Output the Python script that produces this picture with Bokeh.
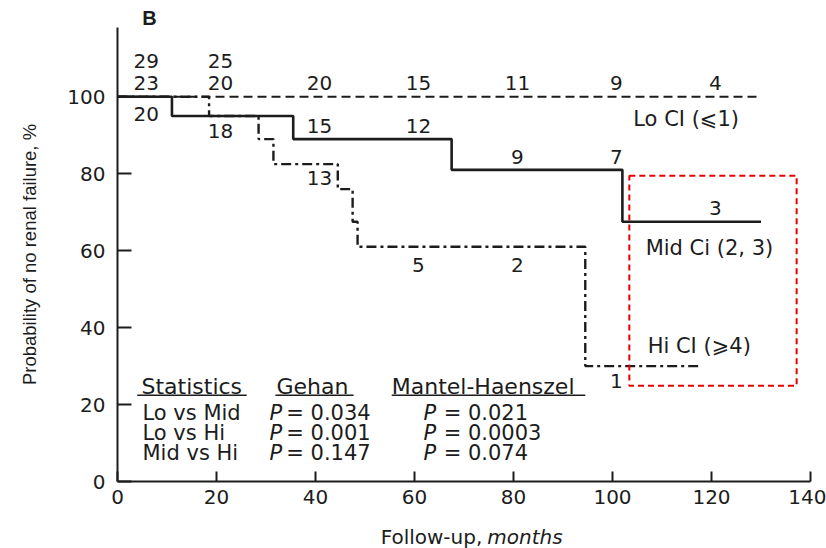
from bokeh.plotting import figure
from bokeh.layouts import column
from bokeh.models import Range1d, BoxAnnotation, FixedTicker
from bokeh.core.properties import value
from bokeh.embed import file_html
from bokeh.resources import INLINE

# ---------------- data ----------------
lo_months = [0, 130]
lo_surv = [100, 100]

mid_months = [0, 11, 35.5, 67.5, 102, 130]
mid_surv = [100, 95, 89, 81, 67.5, 67.5]

hi_months = [0, 18.5, 28.5, 31.5, 44.5, 47.5, 48.5, 94.5, 118]
hi_surv = [100, 95, 89, 82.5, 76, 67.5, 61, 30, 30]

risk_months = [5, 20, 40, 60, 80, 100, 120]
lo_at_risk = [29, 25, 20, 15, 11, 9, 4]
mid_at_risk = [23, 20, 15, 12, 9, 7, 3]
hi_at_risk = [20, 18, 13, 5, 2, 1]

x_ticks = [0, 20, 40, 60, 80, 100, 120, 140]
y_ticks = [0, 20, 40, 60, 80, 100]

comparisons = ["Lo vs Mid", "Lo vs Hi", "Mid vs Hi"]
gehan_p = ["0.034", "0.001", "0.147"]
mantel_haenszel_p = ["0.021", "0.0003", "0.074"]
stat_headers = ["Statistics", "Gehan", "Mantel-Haenszel"]

curve_names = ["Lo CI (\u2a7d1)", "Mid Ci (2, 3)", "Hi CI (\u2a7e4)"]

# ---------------- styling / layout ----------------
INK = "#1c1c1c"
FONT = "DejaVu Sans"
FS = "20px"
W = 826
LEFT, RIGHT = 117, 16


def strip(h):
    f = figure(width=W, height=h, output_backend="svg", toolbar_location=None,
               x_range=Range1d(0, 140), y_range=Range1d(0, h),
               x_axis_type=None, y_axis_type=None,
               min_border_left=LEFT, min_border_right=RIGHT,
               min_border_top=0, min_border_bottom=0)
    f.outline_line_color = None
    f.grid.visible = False
    return f


# top strip with the panel letter
top = strip(27)
top.text(x=[5.0], y=[10], text=["B"], text_font=value("Liberation Sans"),
         text_font_size="20px", text_font_style="bold", text_color=INK,
         text_align="left", text_baseline="middle")

# main plot
p = figure(width=W, height=491, output_backend="svg", toolbar_location=None,
           x_range=Range1d(0, 140), y_range=Range1d(0, 118),
           min_border_left=LEFT, min_border_right=RIGHT,
           min_border_top=0, min_border_bottom=37)
p.outline_line_color = None
p.grid.visible = False

for ax in (p.xaxis, p.yaxis):
    ax.axis_line_width = 2
    ax.axis_line_color = INK
    ax.major_tick_line_width = 2
    ax.major_tick_line_color = INK
    ax.minor_tick_line_color = None
    ax.major_tick_out = 0
    ax.major_label_text_font = FONT
    ax.major_label_text_font_size = FS
    ax.major_label_text_color = INK

p.xaxis.ticker = FixedTicker(ticks=x_ticks)
p.yaxis.ticker = FixedTicker(ticks=y_ticks)
p.xaxis.major_tick_in = 10
p.yaxis.major_tick_in = 14
p.xaxis.major_label_standoff = 8
p.yaxis.major_label_standoff = 12

p.yaxis.axis_label = "Probability of no renal failure, %"
p.yaxis.axis_label_text_font = "Liberation Sans"
p.yaxis.axis_label_text_font_size = "18.5px"
p.yaxis.axis_label_text_font_style = "normal"
p.yaxis.axis_label_text_color = INK
p.yaxis.axis_label_standoff = 24

# survival curves
p.step(lo_months, lo_surv, mode="after", line_color=INK, line_width=2,
       line_dash="9 5")
p.step(mid_months, mid_surv, mode="after", line_color=INK, line_width=2.6)
p.step(hi_months, hi_surv, mode="after", line_color=INK, line_width=2.4,
       line_dash="10 4 3 4")

# numbers at risk
lo_label_y = [109.4, 109.4, 103.6, 103.6, 103.6, 103.6, 103.6]
mid_label_y = [103.6, 103.6, 92.5, 92.5, 84.4, 84.4, 71.2]
hi_label_y = [95.6, 91.2, 79.0, 56.4, 56.4, 26.0]
for counts, ys in ((lo_at_risk, lo_label_y), (mid_at_risk, mid_label_y),
                   (hi_at_risk, hi_label_y)):
    xs = [m + 0.8 for m in risk_months[:len(counts)]]
    p.text(x=xs, y=ys, text=[str(c) for c in counts],
           text_font=value(FONT), text_font_size=FS, text_color=INK,
           text_align="center", text_baseline="middle")

# curve labels
p.text(x=[104.2, 106.7, 107.1], y=[94.3, 60.8, 35.3], text=curve_names,
       text_font=value(FONT), text_font_size="21px", text_color=INK,
       text_align="left", text_baseline="middle")

# statistics table
row_y = [17.9, 12.7, 7.5]
p.text(x=[4.85, 32.1, 55.4], y=[24.7] * 3, text=stat_headers,
       text_font=value(FONT), text_font_size="22px", text_color=INK,
       text_align="left", text_baseline="middle")
p.segment(x0=[4.0, 31.9, 55.4], y0=[22.4] * 3, x1=[26.1, 47.7, 94.5],
          y1=[22.4] * 3, line_color=INK, line_width=1.6)
p.text(x=[5.05] * 3, y=row_y, text=comparisons,
       text_font=value(FONT), text_font_size="21px", text_color=INK,
       text_align="left", text_baseline="middle")
for px_, ex_, vals in ((30.7, 34.1, gehan_p), (61.8, 65.9, mantel_haenszel_p)):
    p.text(x=[px_] * 3, y=row_y, text=["P"] * 3,
           text_font=value(FONT), text_font_size="21px", text_color=INK,
           text_font_style="italic", text_align="left", text_baseline="middle")
    p.text(x=[ex_] * 3, y=row_y, text=["= " + v for v in vals],
           text_font=value(FONT), text_font_size="21px", text_color=INK,
           text_align="left", text_baseline="middle")

# highlight box
p.add_layout(BoxAnnotation(left=103.4, right=137.2, top=79.5, bottom=24.9,
                           fill_alpha=0, line_color="#e60000", line_alpha=1,
                           line_width=2, line_dash="6 4"))

# bottom strip with the x-axis title
bottom = strip(30)
bottom.text(x=[73.7], y=[12], text=["Follow-up,"], text_font=value(FONT),
            text_font_size="20px", text_color=INK,
            text_align="right", text_baseline="middle")
bottom.text(x=[74.7], y=[12], text=["months"], text_font=value(FONT),
            text_font_size="20px", text_font_style="italic", text_color=INK,
            text_align="left", text_baseline="middle")

layout = column(top, p, bottom, spacing=0)
open("out.html", "w").write(file_html(layout, INLINE))
